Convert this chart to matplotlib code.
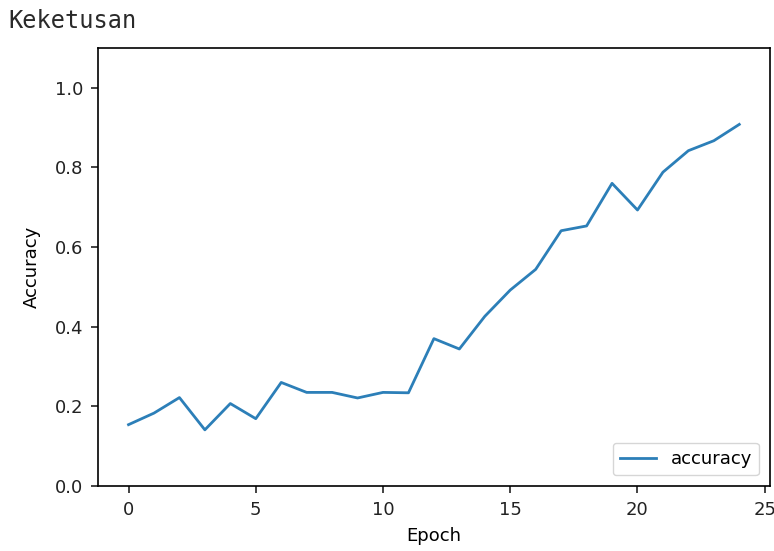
import numpy as np
import matplotlib.pyplot as plt

# data
epochs = list(range(25))
accuracy = [0.154, 0.183, 0.222, 0.141, 0.207, 0.169, 0.260, 0.235, 0.235, 0.221,
            0.235, 0.234, 0.370, 0.344, 0.426, 0.492, 0.544, 0.641, 0.653, 0.760,
            0.693, 0.788, 0.842, 0.867, 0.908]

plt.rcParams['font.size'] = 13

fig = plt.figure(figsize=(7.74, 5.51), dpi=100)
ax = fig.add_axes([0.1266, 0.118, 0.868, 0.795])

# output text printed above the chart
fig.text(8 / 774, 1 - 28 / 551, 'Keketusan', family='DejaVu Sans Mono',
         fontsize=17, color='#2a2a2a', ha='left', va='baseline')

ax.plot(epochs, accuracy, color='#2c7fb8', linewidth=2, label='accuracy')
ax.set_xlabel('Epoch', labelpad=6)
ax.set_ylabel('Accuracy', labelpad=10)
ax.set_ylim(0, 1.1)
ax.set_yticks([0.0, 0.2, 0.4, 0.6, 0.8, 1.0])
ax.legend(loc='lower right', borderaxespad=0.6)

for s in ax.spines.values():
    s.set_linewidth(1.2)
ax.tick_params(width=1.2, length=5, pad=5.5, colors='#222222')

fig.savefig('out.png', dpi=100)
